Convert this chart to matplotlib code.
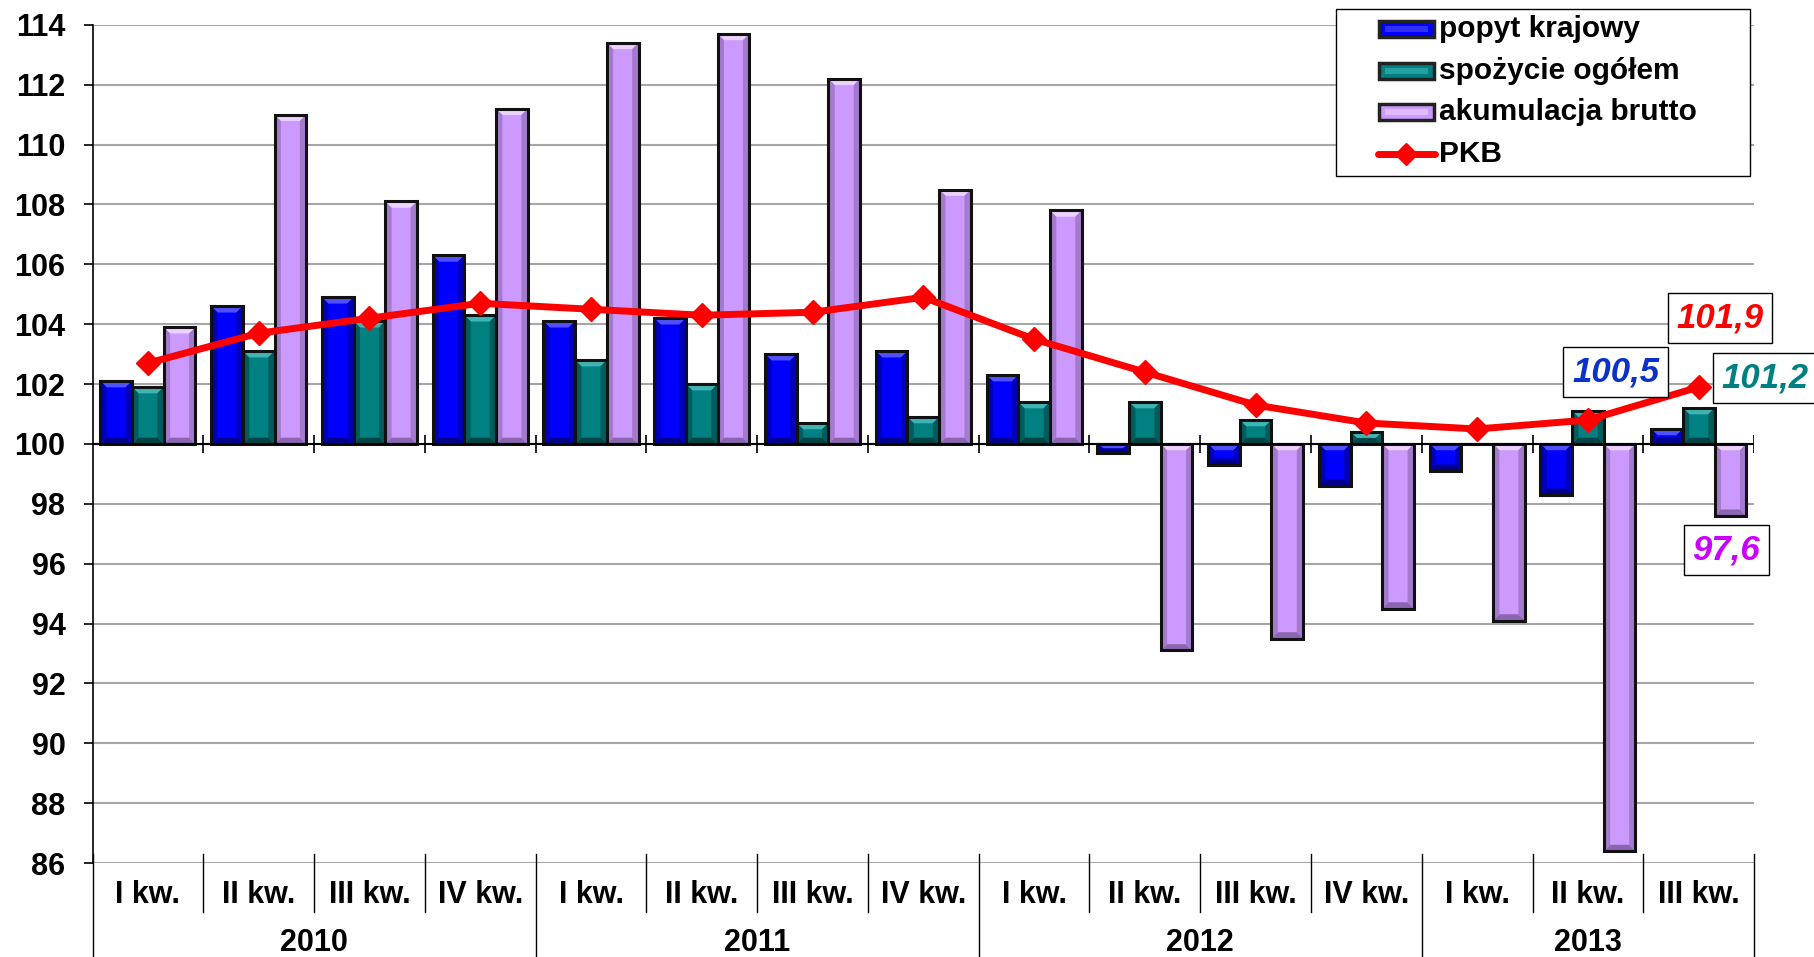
import matplotlib
matplotlib.use('Agg')
import matplotlib.pyplot as plt
import matplotlib.transforms as mtransforms
from matplotlib.lines import Line2D
from matplotlib.patches import Rectangle, Polygon
import numpy as np

plt.rcParams['font.family'] = ['Liberation Sans', 'DejaVu Sans']
plt.rcParams['font.weight'] = 'bold'

kwartaly = ['I kw.', 'II kw.', 'III kw.', 'IV kw.'] * 3 + ['I kw.', 'II kw.', 'III kw.']
lata = ['2010', '2011', '2012', '2013']
popyt = [102.1, 104.6, 104.9, 106.3, 104.1, 104.2, 103.0, 103.1, 102.3, 99.7, 99.3, 98.6, 99.1, 98.3, 100.5]
spozycie = [101.9, 103.1, 104.1, 104.3, 102.8, 102.0, 100.7, 100.9, 101.4, 101.4, 100.8, 100.4, 100.0, 101.1, 101.2]
akumulacja = [103.9, 111.0, 108.1, 111.2, 113.4, 113.7, 112.2, 108.5, 107.8, 93.1, 93.5, 94.5, 94.1, 86.4, 97.6]
pkb = [102.7, 103.7, 104.2, 104.7, 104.5, 104.3, 104.4, 104.9, 103.5, 102.4, 101.3, 100.7, 100.5, 100.8, 101.9]
nazwy = ['popyt krajowy', 'spożycie ogółem', 'akumulacja brutto', 'PKB']

# main, top (light), sides, bottom (dark)
kolory = {
    'blue': ('#0000FF', '#5050FF', '#0000B8', '#00008C'),
    'teal': ('#008080', '#40B4B4', '#005C5C', '#004444'),
    'purple': ('#CC99FF', '#EBD2FF', '#A37ACC', '#8A66B0'),
}
c_red = '#FF0000'

fig = plt.figure(figsize=(18.14, 9.57), dpi=100)
ax = fig.add_axes([0.051, 0.0982, 0.916, 0.8758])

x = np.arange(len(popyt))
w = 0.286
base = 100


def bevel(rect, cols):
    x0, wd = rect.get_x(), rect.get_width()
    y0 = min(rect.get_y(), rect.get_y() + rect.get_height())
    y1 = max(rect.get_y(), rect.get_y() + rect.get_height())
    if y1 - y0 <= 0:
        return
    dx = wd * 0.2
    dy = min(0.21, (y1 - y0) / 2)
    polys = [
        ([(x0, y1), (x0 + wd, y1), (x0 + wd - dx, y1 - dy), (x0 + dx, y1 - dy)], cols[1]),
        ([(x0, y0), (x0 + wd, y0), (x0 + wd - dx, y0 + dy), (x0 + dx, y0 + dy)], cols[3]),
        ([(x0, y0), (x0 + dx, y0 + dy), (x0 + dx, y1 - dy), (x0, y1)], cols[2]),
        ([(x0 + wd, y0), (x0 + wd - dx, y0 + dy), (x0 + wd - dx, y1 - dy), (x0 + wd, y1)], cols[2]),
    ]
    for pts, c in polys:
        ax.add_patch(Polygon(pts, closed=True, fc=c, ec='none', zorder=3.1))


for off, vals, key in [(-w, popyt, 'blue'), (0, spozycie, 'teal'), (w, akumulacja, 'purple')]:
    h = np.array(vals) - base
    bars = ax.bar(x + off, h, w, bottom=base, color=kolory[key][0], linewidth=0, zorder=3)
    for r in bars:
        bevel(r, kolory[key])
    ax.bar(x + off, h, w, bottom=base, fill=False, edgecolor='#111111', linewidth=2.2, zorder=3.2)

ax.plot(x, pkb, color=c_red, lw=5, marker='D', markersize=12, zorder=5)

ax.set_xlim(-0.5, len(x) - 0.5)
ax.set_ylim(86, 114)
ax.set_yticks(np.arange(86, 115, 2))
ax.yaxis.grid(True, color='#A6A6A6', lw=1.5, zorder=0)
ax.set_axisbelow(True)
ax.tick_params(axis='y', labelsize=22, length=6.5, width=1.2, pad=13)
for lab in ax.get_yticklabels():
    lab.set_fontweight('bold')
ax.set_xticks([])
for s in ['top', 'right', 'bottom']:
    ax.spines[s].set_visible(False)
ax.spines['left'].set_linewidth(1.2)

# axis line at 100 with boundary ticks
ax.axhline(100, color='black', lw=1.5, zorder=4)
bounds = np.arange(0.5, len(x), 1.0)
ax.vlines(bounds, 99.7, 100.3, color='black', lw=1.2, zorder=4)

# category labels below the plot
tr = mtransforms.blended_transform_factory(ax.transData, ax.transAxes)
for i, k in enumerate(kwartaly):
    ax.text(i, -0.038, k, transform=tr, ha='center', va='center', fontsize=22, fontweight='bold')
for j, r in enumerate(lata):
    start = j * 4 - 0.5
    end = min(start + 4, len(x) - 0.5)
    ax.text((start + end) / 2, -0.095, r, transform=tr, ha='center', va='center', fontsize=22, fontweight='bold')
for b in np.arange(-0.5, len(x), 1.0):
    if (b + 0.5) % 4 == 0 or b == len(x) - 0.5:
        y0 = -0.115
    else:
        y0 = -0.0585
    ax.add_line(Line2D([b, b], [0.0107, y0], transform=tr, color='black', lw=1.0, clip_on=False))

# value boxes
box = dict(boxstyle='square,pad=0.25', fc='white', ec='black', lw=1.0)
ax.text(14.19, 104.2, '101,9', color=c_red, fontsize=25, fontweight='bold', style='italic',
        ha='center', va='center', bbox=box, zorder=6)
ax.text(13.25, 102.4, '100,5', color='#0A32C8', fontsize=25, fontweight='bold', style='italic',
        ha='center', va='center', bbox=box, zorder=6)
ax.text(14.6, 102.2, '101,2', color='#008080', fontsize=25, fontweight='bold', style='italic',
        ha='center', va='center', bbox=box, zorder=6, clip_on=False)
ax.text(14.25, 96.45, '97,6', color='#CC00FF', fontsize=25, fontweight='bold', style='italic',
        ha='center', va='center', bbox=box, zorder=6)

# legend drawn by hand (box at 1336-1750 x 9-176 px)
W, H = 1814.0, 957.0
def fx(px):
    return px / W
def fy(py):
    return 1 - py / H

fig.add_artist(Rectangle((fx(1336), fy(176)), fx(1750) - fx(1336), fy(9) - fy(176),
                         transform=fig.transFigure, fc='white', ec='black', lw=1.0, zorder=10))
rows = [29, 71, 112, 154]
for key, name, ry in zip(['blue', 'teal', 'purple'], nazwy[:3], rows[:3]):
    fig.add_artist(Rectangle((fx(1379), fy(ry + 8)), fx(1434) - fx(1379), fy(ry - 8) - fy(ry + 8),
                             transform=fig.transFigure, fc=kolory[key][0], ec='#222222', lw=2.5, zorder=11))
    fig.add_artist(Rectangle((fx(1385), fy(ry + 3)), fx(1428) - fx(1385), fy(ry - 3) - fy(ry + 3),
                             transform=fig.transFigure, fc=kolory[key][1], ec='none', alpha=0.6, zorder=11))
for name, ry in zip(nazwy, rows):
    fig.text(fx(1439), fy(ry), name, fontsize=21.5, fontweight='bold', ha='left', va='center', zorder=12)
fig.add_artist(Line2D([fx(1378), fx(1435)], [fy(rows[3]), fy(rows[3])], transform=fig.transFigure,
                      color=c_red, lw=5, solid_capstyle='round', zorder=11))
fig.add_artist(Line2D([fx(1406)], [fy(rows[3])], transform=fig.transFigure, color=c_red,
                      marker='D', markersize=11, zorder=11))

fig.savefig('out.png', dpi=100)
